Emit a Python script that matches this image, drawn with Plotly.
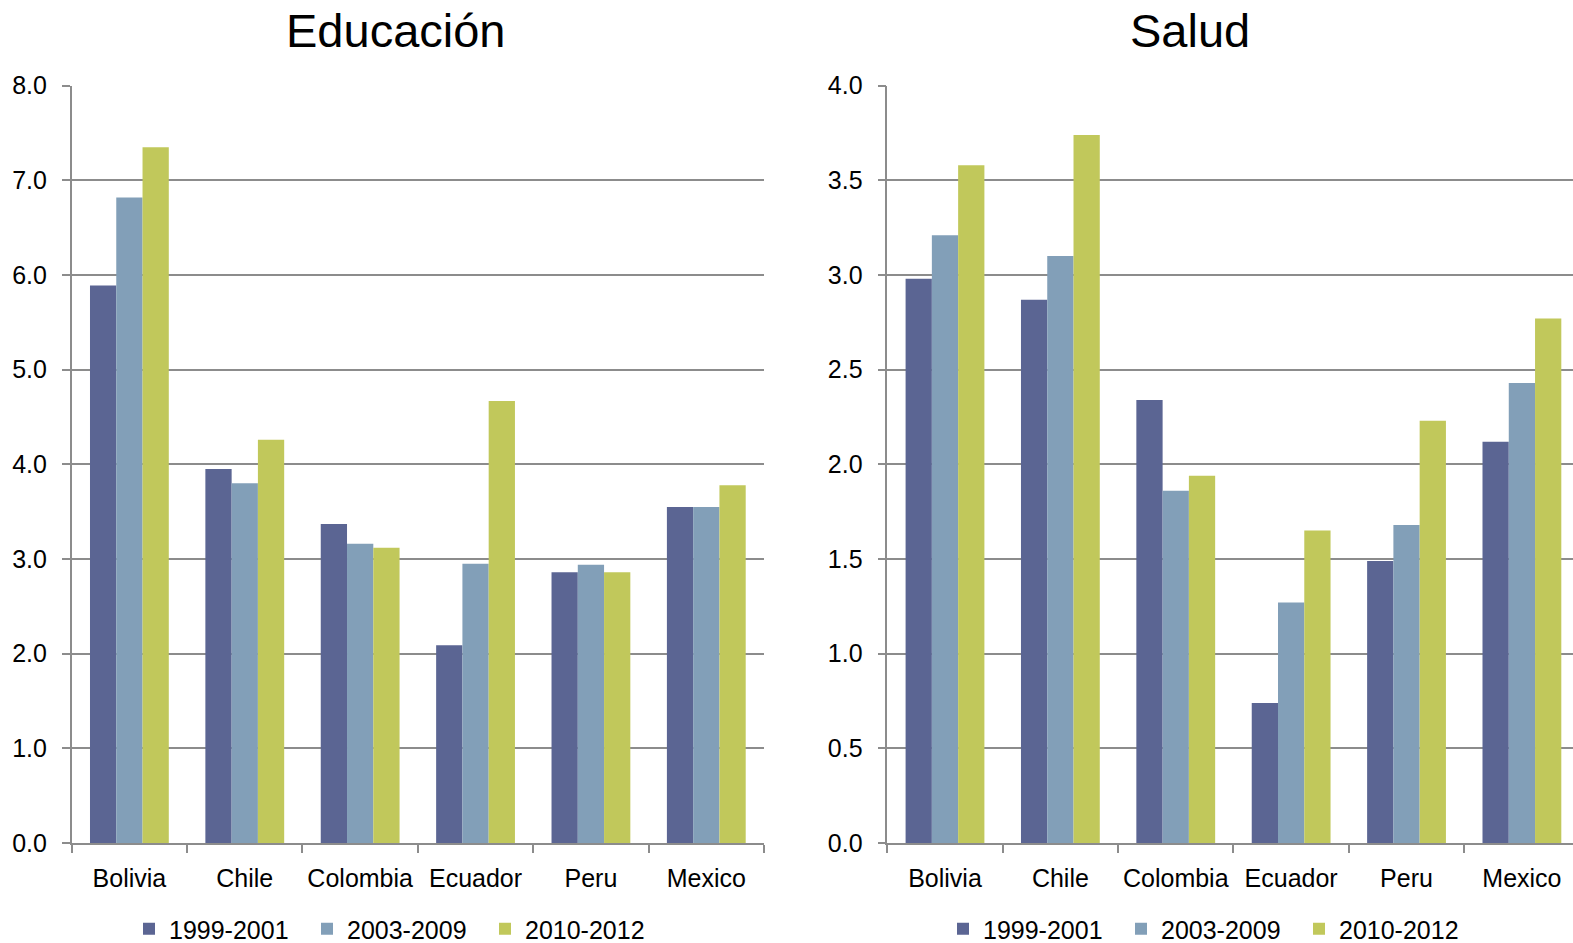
import plotly.graph_objects as go

categories = ["Bolivia", "Chile", "Colombia", "Ecuador", "Peru", "Mexico"]
series_names = ["1999-2001", "2003-2009", "2010-2012"]

edu_1999 = [5.89, 3.95, 3.37, 2.09, 2.86, 3.55]
edu_2003 = [6.82, 3.80, 3.16, 2.95, 2.94, 3.55]
edu_2010 = [7.35, 4.26, 3.12, 4.67, 2.86, 3.78]

sal_1999 = [2.98, 2.87, 2.34, 0.74, 1.49, 2.12]
sal_2003 = [3.21, 3.10, 1.86, 1.27, 1.68, 2.43]
sal_2010 = [3.58, 3.74, 1.94, 1.65, 2.23, 2.77]

edu_ticks = [0, 1, 2, 3, 4, 5, 6, 7, 8]
sal_ticks = [0, 0.5, 1.0, 1.5, 2.0, 2.5, 3.0, 3.5, 4.0]

colors = ["#5B6593", "#829FB8", "#C1C85B"]
FONT = "Liberation Sans, Arial, sans-serif"

fig = go.Figure()
for name, vals, col in zip(series_names, [edu_1999, edu_2003, edu_2010], colors):
    fig.add_trace(go.Bar(x=categories, y=vals, name=name, marker=dict(color=col, line=dict(width=0)),
                         xaxis="x", yaxis="y", legend="legend"))
for name, vals, col in zip(series_names, [sal_1999, sal_2003, sal_2010], colors):
    fig.add_trace(go.Bar(x=categories, y=vals, name=name, marker=dict(color=col, line=dict(width=0)),
                         xaxis="x2", yaxis="y2", legend="legend2"))

W, H = 1573, 943
MB = 90
PH = H - MB  # plot-area height in px (top margin 0)


def py(px):
    return 1 - px / PH


# layout geometry (pixels)
L0, L1 = 71.7, 764.0
R0 = 887.3
CAT = (L1 - L0) / 6.0
r_end = -0.5 + (W - R0) / CAT  # right chart is cut by the page edge
YT, YB = 85.7, 843.0

axis_common = dict(
    showline=True, linecolor="#8C8C8C", linewidth=1.5, automargin=False,
    tickfont=dict(family=FONT, size=25, color="#000000"),
)
xcommon = dict(axis_common, type="category", ticks="outside", tickson="boundaries",
               ticklen=8, tickcolor="#8C8C8C", tickwidth=1.5, showgrid=False,
               fixedrange=True, ticklabelstandoff=12, tickangle=0)
ycommon = dict(axis_common, ticks="outside", ticklen=8, tickcolor="#8C8C8C", tickwidth=1.5,
               showgrid=True, gridcolor="#8C8C8C", gridwidth=1.5, zeroline=False,
               tickformat=".1f", ticklabelstandoff=10)

legend_common = dict(orientation="h", xanchor="left", y=py(929), yanchor="middle",
                     font=dict(family=FONT, size=25, color="#000000"),
                     entrywidth=133, entrywidthmode="pixels", tracegroupgap=0,
                     bgcolor="rgba(0,0,0,0)", borderwidth=0)

fig.update_layout(
    width=W, height=H,
    margin=dict(l=0, r=0, t=0, b=MB, autoexpand=False),
    paper_bgcolor="white", plot_bgcolor="white",
    barmode="group", bargap=0.317, bargroupgap=0,
    font=dict(family=FONT, size=25, color="#000000"),
    xaxis=dict(xcommon, domain=[L0 / W, L1 / W], range=[-0.5, 5.5], anchor="y"),
    yaxis=dict(ycommon, domain=[py(YB), py(YT)], range=[0, 8], tickvals=edu_ticks, anchor="x"),
    xaxis2=dict(xcommon, domain=[R0 / W, 1.0], range=[-0.5, r_end], anchor="y2"),
    yaxis2=dict(ycommon, domain=[py(YB), py(YT)], range=[0, 4], tickvals=sal_ticks, anchor="x2"),
    legend=dict(legend_common, x=129 / W),
    legend2=dict(legend_common, x=943 / W),
    annotations=[
        dict(text="Educación", x=396 / W, y=py(31), xref="paper", yref="paper",
             showarrow=False, font=dict(family=FONT, size=47, color="#000000"),
             xanchor="center", yanchor="middle"),
        dict(text="Salud", x=1190 / W, y=py(31), xref="paper", yref="paper",
             showarrow=False, font=dict(family=FONT, size=47, color="#000000"),
             xanchor="center", yanchor="middle"),
    ],
)

post = (
    "var gd=document.getElementById('{plot_id}');"
    "var de=document.documentElement;de.style.margin='0';de.style.padding='0';de.style.overflow='hidden';"
    "document.body.style.margin='0';document.body.style.padding='0';document.body.style.overflow='hidden';"
    "var p=gd.parentElement;p.style.width='1573px';p.style.height='943px';p.style.overflow='hidden';"
)

fig.write_html("out.html", config={"displayModeBar": False}, post_script=post)
